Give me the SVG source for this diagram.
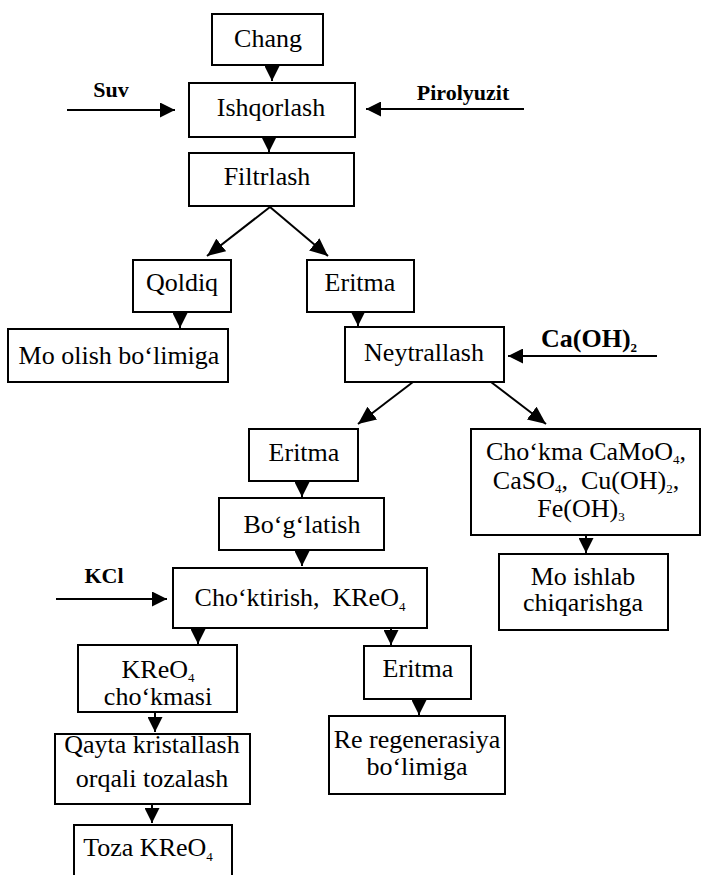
<svg xmlns="http://www.w3.org/2000/svg" width="702" height="875" viewBox="0 0 702 875">
<style>
.bx{fill:#fff;stroke:#000;stroke-width:2}
.t{font-family:"Liberation Serif","Times New Roman",serif;font-size:26px;text-anchor:middle;fill:#000}
.b{font-family:"Liberation Serif","Times New Roman",serif;font-size:22px;font-weight:bold;fill:#000}
.s{font-size:13px}
.c{fill:none;stroke:#000;stroke-width:2;marker-end:url(#a)}
.d{fill:none;stroke:#000;stroke-width:2;marker-end:url(#ad)}
</style>
<defs>
<marker id="a" viewBox="0 0 15 15" refX="15" refY="7.5" markerWidth="15" markerHeight="15" markerUnits="userSpaceOnUse" orient="auto"><path d="M0,0 L15,7.5 L0,15 z" fill="#000"/></marker>
<marker id="ad" viewBox="0 0 18 16" refX="18" refY="8" markerWidth="18" markerHeight="16" markerUnits="userSpaceOnUse" orient="auto"><path d="M0,0 L18,8 L0,16 z" fill="#000"/></marker>
</defs>
<rect width="702" height="875" fill="#fff"/>
<g id="connectors">
<path class="c" d="M272,65 L272,81"/>
<path class="c" d="M269,137 L269,152"/>
<path class="d" d="M270,207 L207,256"/>
<path class="d" d="M270,207 L328,256"/>
<path class="c" d="M180,312 L180,328"/>
<path class="c" d="M358,312 L358,326"/>
<path class="d" d="M413,382 L358,424"/>
<path class="d" d="M491,382 L546,424"/>
<path class="c" d="M302,481 L302,497"/>
<path class="c" d="M302,550 L302,566"/>
<path class="c" d="M586,535 L586,553"/>
<path class="c" d="M198,628 L198,644"/>
<path class="c" d="M391,628 L391,645"/>
<path class="c" d="M155,712 L155,732"/>
<path class="c" d="M152,804 L152,823"/>
<path class="c" d="M419,699 L419,715"/>
<path class="c" d="M67,110 L175,110"/>
<path class="c" d="M524,109 L366,109"/>
<path class="c" d="M657,356 L508,356"/>
<path class="c" d="M56,599 L167,599"/>
</g>
<g id="suv"><text class="b" x="111" y="97" text-anchor="middle">Suv</text></g>
<g id="pirolyuzit"><text class="b" x="463" y="100" text-anchor="middle">Pirolyuzit</text></g>
<g id="caoh2"><text class="b" x="541" y="347" style="font-size:26px">Ca(OH)<tspan class="s" dy="5">2</tspan></text></g>
<g id="kcl"><text class="b" x="104" y="583" text-anchor="middle">KCl</text></g>
<g id="chang"><rect class="bx" x="212" y="14" width="111" height="51"/><text class="t" x="268" y="47">Chang</text></g>
<g id="ishqorlash"><rect class="bx" x="189" y="83" width="166" height="54"/><text class="t" x="271" y="116">Ishqorlash</text></g>
<g id="filtrlash"><rect class="bx" x="189" y="153" width="165" height="53"/><text class="t" x="267" y="185">Filtrlash</text></g>
<g id="qoldiq"><rect class="bx" x="133" y="260" width="98" height="52"/><text class="t" x="182" y="291">Qoldiq</text></g>
<g id="eritma1"><rect class="bx" x="307" y="260" width="107" height="52"/><text class="t" x="360" y="291">Eritma</text></g>
<g id="mo-olish"><rect class="bx" x="8" y="329" width="220" height="53"/><text class="t" x="119" y="364">Mo olish bo‘limiga</text></g>
<g id="neytrallash"><rect class="bx" x="345" y="327" width="159" height="55"/><text class="t" x="424" y="361">Neytrallash</text></g>
<g id="eritma2"><rect class="bx" x="249" y="429" width="109" height="52"/><text class="t" x="304" y="461">Eritma</text></g>
<g id="chokma"><rect class="bx" x="471" y="429" width="229" height="106"/>
<text class="t" x="586" y="460">Cho‘kma CaMoO<tspan class="s" dy="4">4</tspan><tspan dy="-4">,</tspan></text>
<text class="t" x="586" y="489">CaSO<tspan class="s" dy="4">4</tspan><tspan dy="-4">,&#160; Cu(OH)</tspan><tspan class="s" dy="4">2</tspan><tspan dy="-4">,</tspan></text>
<text class="t" x="581" y="517">Fe(OH)<tspan class="s" dy="4">3</tspan></text></g>
<g id="boglatish"><rect class="bx" x="219" y="498" width="165" height="52"/><text class="t" x="302" y="533">Bo‘g‘latish</text></g>
<g id="mo-ishlab"><rect class="bx" x="499" y="554" width="169" height="76"/><text class="t" x="583" y="585">Mo ishlab</text><text class="t" x="583" y="611">chiqarishga</text></g>
<g id="choktirish"><rect class="bx" x="173" y="568" width="254" height="60"/><text class="t" x="300" y="606">Cho‘ktirish,&#160; KReO<tspan class="s" dy="5">4</tspan></text></g>
<g id="kreo4-chokmasi"><rect class="bx" x="78" y="645" width="159" height="67"/><text class="t" x="158" y="678">KReO<tspan class="s" dy="4">4</tspan></text><text class="t" x="158" y="705">cho‘kmasi</text></g>
<g id="eritma3"><rect class="bx" x="364" y="646" width="107" height="53"/><text class="t" x="418" y="677">Eritma</text></g>
<g id="qayta"><rect class="bx" x="55" y="734" width="195" height="70"/><text class="t" x="152" y="753">Qayta kristallash</text><text class="t" x="152" y="787">orqali tozalash</text></g>
<g id="re"><rect class="bx" x="329" y="716" width="176" height="78"/><text class="t" x="417" y="748">Re regenerasiya</text><text class="t" x="417" y="775">bo‘limiga</text></g>
<g id="toza"><rect class="bx" x="74" y="825" width="158" height="60"/><text class="t" x="148" y="856">Toza KReO<tspan class="s" dy="5">4</tspan></text></g>
</svg>
